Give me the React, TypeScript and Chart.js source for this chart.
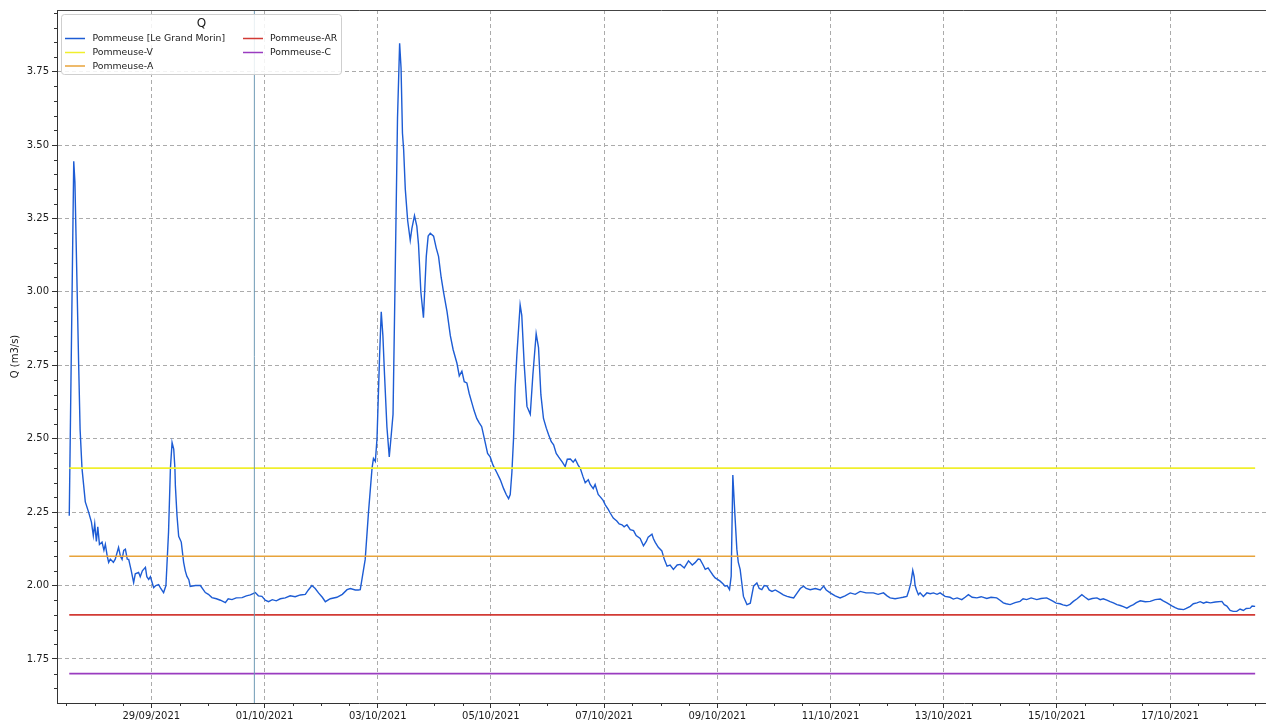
import React, { useEffect, useRef } from 'react';
import { Chart, registerables } from 'chart.js';

Chart.register(...registerables);

// Time axis: hours since 27/09/2021 00:00
const hours = [
  13.2, 15.1, 15.6, 17.2, 17.8, 18.6, 20.0, 21.4, 22.6, 23.4, 24.0, 24.7, 25.3, 26.0, 27.1, 27.9, 28.5, 29.3, 29.9, 30.6,
  31.9, 32.7, 34.1, 34.9, 35.6, 36.3, 37.0, 37.8, 38.4, 39.5, 40.5, 41.2, 42.6, 43.3, 44.2, 45.5, 46.1, 46.9, 47.6, 49.0,
  49.9, 51.1, 52.0, 53.2, 54.2, 55.3, 56.1, 56.8, 57.5, 58.0, 58.2, 58.9, 59.6, 60.7, 61.7, 62.4, 63.1, 63.9, 64.5, 66.7,
  68.8, 70.9, 72.2, 73.7, 75.6, 77.3, 79.4, 80.6, 82.2, 84.0, 86.5, 88.3, 90.0, 92.1, 93.4, 94.9, 96.3, 97.7, 99.3, 101.0,
  102.7, 104.8, 106.9, 109.0, 111.2, 113.3, 114.6, 116.1, 117.5, 118.9, 120.5, 121.8, 123.9, 126.7, 129.0, 131.0, 132.4, 134.5, 135.8, 136.6,
  137.3, 137.9, 138.7, 140.1, 141.6, 142.2, 143.0, 143.7, 144.8, 145.5, 146.2, 146.9, 147.9, 148.9, 149.6, 150.5, 151.4, 152.4, 153.3, 153.9,
  154.5, 155.0, 155.7, 156.7, 157.8, 158.5, 159.6, 160.6, 161.3, 162.3, 163.4, 164.6, 165.4, 166.3, 167.7, 168.8, 169.8, 170.9, 171.9, 173.4,
  174.8, 176.0, 177.6, 178.6, 179.7, 180.7, 181.8, 182.8, 183.9, 184.9, 186.0, 187.0, 188.1, 189.6, 190.6, 191.7, 192.9, 194.5, 196.0, 197.4,
  198.5, 199.5, 200.2, 200.9, 201.6, 202.3, 203.0, 204.4, 205.1, 206.1, 207.3, 208.7, 209.8, 211.2, 212.2, 213.2, 214.3, 215.5, 216.4, 217.6,
  218.6, 219.7, 220.7, 222.3, 223.5, 224.4, 225.7, 226.9, 227.8, 229.0, 229.9, 231.1, 232.0, 233.3, 234.1, 235.4, 236.2, 237.5, 238.4, 239.6,
  240.5, 241.7, 242.6, 243.9, 245.4, 246.4, 247.6, 248.5, 249.7, 251.1, 252.5, 253.6, 255.3, 256.7, 257.9, 258.7, 260.3, 260.9, 261.7, 263.0,
  264.5, 265.5, 266.7, 268.0, 269.4, 271.0, 272.3, 274.0, 275.8, 277.4, 278.6, 279.9, 280.7, 282.0, 282.9, 284.1, 285.0, 286.2, 287.1, 288.3,
  289.2, 290.5, 291.3, 292.2, 293.2, 293.9, 294.6, 295.5, 296.3, 296.9, 297.7, 299.1, 300.6, 302.0, 303.4, 304.8, 305.8, 306.9, 307.9, 309.1,
  310.0, 311.2, 312.6, 314.7, 316.0, 317.6, 319.0, 320.4, 321.9, 323.2, 324.6, 325.7, 327.4, 329.6, 331.7, 333.1, 334.2, 335.9, 338.0, 340.1,
  342.2, 344.4, 346.5, 348.6, 351.1, 354.2, 356.2, 358.5, 360.0, 361.3, 363.4, 365.5, 366.8, 368.4, 369.3, 370.1, 370.9, 371.5, 371.9, 372.5,
  373.3, 374.0, 375.4, 376.9, 378.3, 379.7, 381.2, 382.5, 384.6, 386.7, 388.1, 389.7, 391.7, 393.1, 394.5, 396.1, 398.1, 399.9, 402.3, 404.1,
  406.5, 407.9, 409.3, 410.5, 412.2, 414.3, 416.4, 417.7, 419.2, 421.1, 423.5, 425.3, 427.7, 429.1, 430.5, 431.7, 433.4, 434.6, 436.2, 437.6,
  439.0, 440.6, 442.6, 444.0, 445.4, 447.0, 449.0, 450.4, 451.7, 453.2, 454.6, 456.0, 457.5, 458.9, 460.2, 461.7, 463.1, 464.5, 465.7, 467.4,
  469.5, 471.6, 473.7, 475.9, 477.1, 478.7, 480.8, 482.2, 483.6, 485.8, 486.9, 488.6, 489.9, 491.4, 492.8, 494.2, 495.4, 497.1, 499.2, 502.0,
  503.0, 504.1, 505.5, 506.8, 508.3, 509.7, 511.1, 512.3, 514.0, 514.8, 516.1,
];

const flow = [
  2.238, 3.445, 3.373, 2.748, 2.531, 2.399, 2.285, 2.25, 2.216, 2.17, 2.21, 2.15, 2.2, 2.14, 2.148, 2.12, 2.14, 2.10, 2.079, 2.09,
  2.079, 2.09, 2.13, 2.10, 2.089, 2.12, 2.124, 2.09, 2.089, 2.05, 2.01, 2.04, 2.045, 2.03, 2.05, 2.062, 2.03, 2.021, 2.03, 1.993,
  2.00, 2.003, 1.99, 1.976, 2.0, 2.182, 2.40, 2.487, 2.465, 2.40, 2.34, 2.237, 2.168, 2.148, 2.079, 2.05, 2.031, 2.02, 1.997, 2.0,
  2.0, 1.976, 1.97, 1.959, 1.955, 1.95, 1.942, 1.955, 1.952, 1.958, 1.959, 1.965, 1.968, 1.976, 1.965, 1.963, 1.95, 1.945, 1.952, 1.948,
  1.955, 1.958, 1.965, 1.962, 1.968, 1.97, 1.985, 2.0, 1.99, 1.975, 1.96, 1.945, 1.955, 1.96, 1.97, 1.986, 1.99, 1.985, 1.985, 1.986,
  2.02, 2.05, 2.089, 2.25, 2.40, 2.433, 2.423, 2.50, 2.783, 2.932, 2.851, 2.717, 2.541, 2.438, 2.50, 2.583, 3.053, 3.592, 3.847, 3.763,
  3.54, 3.485, 3.35, 3.243, 3.176, 3.216, 3.26, 3.223, 3.162, 3.0, 2.912, 3.121, 3.19, 3.2, 3.19, 3.15, 3.121, 3.05, 3.0, 2.933,
  2.851, 2.803, 2.757, 2.714, 2.73, 2.694, 2.69, 2.654, 2.623, 2.595, 2.569, 2.555, 2.541, 2.487, 2.45, 2.438, 2.41, 2.385, 2.36, 2.33,
  2.31, 2.296, 2.31, 2.385, 2.50, 2.675, 2.783, 2.956, 2.92, 2.757, 2.61, 2.583, 2.717, 2.858, 2.81, 2.65, 2.569, 2.536, 2.515, 2.49,
  2.479, 2.45, 2.438, 2.42, 2.405, 2.43, 2.431, 2.42, 2.43, 2.41, 2.399, 2.37, 2.35, 2.36, 2.344, 2.33, 2.344, 2.31, 2.302, 2.29,
  2.275, 2.26, 2.247, 2.23, 2.22, 2.21, 2.207, 2.20, 2.207, 2.19, 2.187, 2.17, 2.16, 2.135, 2.15, 2.165, 2.175, 2.16, 2.147, 2.13,
  2.118, 2.09, 2.066, 2.07, 2.055, 2.07, 2.072, 2.06, 2.084, 2.07, 2.078, 2.09, 2.089, 2.07, 2.055, 2.06, 2.049, 2.035, 2.026, 2.02,
  2.015, 2.005, 1.998, 2.0, 1.986, 2.032, 2.376, 2.238, 2.124, 2.08, 2.055, 1.963, 1.935, 1.94, 1.998, 2.009, 1.99, 1.986, 2.0, 1.998,
  1.985, 1.98, 1.985, 1.975, 1.968, 1.963, 1.96, 1.958, 1.975, 1.99, 1.998, 1.99, 1.986, 1.99, 1.985, 1.998, 1.985, 1.975, 1.965, 1.958,
  1.965, 1.975, 1.97, 1.98, 1.975, 1.975, 1.97, 1.975, 1.965, 1.958, 1.955, 1.958, 1.96, 1.963, 1.985, 2.009, 2.052, 2.03, 2.0, 1.985,
  1.969, 1.975, 1.963, 1.975, 1.972, 1.975, 1.97, 1.975, 1.963, 1.96, 1.954, 1.958, 1.952, 1.96, 1.969, 1.96, 1.958, 1.962, 1.956, 1.96,
  1.958, 1.95, 1.941, 1.938, 1.935, 1.942, 1.946, 1.955, 1.952, 1.958, 1.952, 1.956, 1.958, 1.952, 1.946, 1.94, 1.938, 1.934, 1.931, 1.936,
  1.946, 1.955, 1.969, 1.96, 1.952, 1.956, 1.958, 1.952, 1.955, 1.95, 1.945, 1.941, 1.935, 1.932, 1.928, 1.923, 1.93, 1.935, 1.942, 1.948,
  1.945, 1.946, 1.952, 1.954, 1.948, 1.941, 1.931, 1.925, 1.92, 1.918, 1.922, 1.929, 1.938, 1.941, 1.945, 1.94, 1.944, 1.941, 1.944, 1.946,
  1.935, 1.93, 1.915, 1.912, 1.912, 1.92, 1.915, 1.922, 1.923, 1.93, 1.929,
];

const seriesName = 'Pommeuse [Le Grand Morin]';
const seriesColor = '#1d5cd4';

const thresholdNames = ['Pommeuse-V', 'Pommeuse-A', 'Pommeuse-AR', 'Pommeuse-C'];
const thresholdValues = [2.4, 2.1, 1.9, 1.7];
const thresholdColors = ['#f0ef2c', '#e8a33a', '#d23a35', '#9a3cc0'];
const thresholdSpan = [13.2, 516.1];

const markerHour = 91.7;
const markerColor = '#6f9ab5';

const xLimits = [8, 520.7];
const yLimits = [1.6, 3.96];

const xTickHours = [48, 96, 144, 192, 240, 288, 336, 384, 432, 480];
const xTickLabels = [
  '29/09/2021', '01/10/2021', '03/10/2021', '05/10/2021', '07/10/2021',
  '09/10/2021', '11/10/2021', '13/10/2021', '15/10/2021', '17/10/2021',
];
const yTickValues = [1.75, 2.0, 2.25, 2.5, 2.75, 3.0, 3.25, 3.5, 3.75];

const yTitle = 'Q (m3/s)';
const legendTitle = 'Q';

const FONT = '"DejaVu Sans", "Liberation Sans", sans-serif';
const TEXT = '#1a1a1a';

const minorTicksPlugin = {
  id: 'minorTicks',
  afterDraw(chart: any) {
    const { ctx, chartArea } = chart;
    const xs = chart.scales.x;
    const ys = chart.scales.y;
    ctx.save();
    ctx.strokeStyle = '#333';
    ctx.lineWidth = 1;
    ctx.beginPath();
    for (let h = 12; h <= xLimits[1]; h += 12) {
      if (h < xLimits[0] || h % 48 === 0) continue;
      const px = Math.round(xs.getPixelForValue(h)) + 0.5;
      ctx.moveTo(px, chartArea.bottom);
      ctx.lineTo(px, chartArea.bottom + 3);
    }
    for (let k = 33; k <= 79; k++) {
      if (k % 5 === 0) continue;
      const v = k * 0.05;
      if (v < yLimits[0] || v > yLimits[1]) continue;
      const py = Math.round(ys.getPixelForValue(v)) + 0.5;
      ctx.moveTo(chartArea.left - 3, py);
      ctx.lineTo(chartArea.left, py);
    }
    ctx.stroke();
    // top spine
    ctx.strokeStyle = '#444';
    ctx.beginPath();
    ctx.moveTo(chartArea.left, chartArea.top + 0.5);
    ctx.lineTo(chartArea.right, chartArea.top + 0.5);
    ctx.stroke();
    ctx.restore();
  },
};

const legendPlugin = {
  id: 'customLegend',
  afterDraw(chart: any) {
    const { ctx } = chart;
    ctx.save();
    const bx = 61.5, by = 14.5, bw = 280, bh = 60, r = 3;
    ctx.beginPath();
    ctx.moveTo(bx + r, by);
    ctx.lineTo(bx + bw - r, by);
    ctx.quadraticCurveTo(bx + bw, by, bx + bw, by + r);
    ctx.lineTo(bx + bw, by + bh - r);
    ctx.quadraticCurveTo(bx + bw, by + bh, bx + bw - r, by + bh);
    ctx.lineTo(bx + r, by + bh);
    ctx.quadraticCurveTo(bx, by + bh, bx, by + bh - r);
    ctx.lineTo(bx, by + r);
    ctx.quadraticCurveTo(bx, by, bx + r, by);
    ctx.closePath();
    ctx.fillStyle = 'rgba(255,255,255,0.85)';
    ctx.fill();
    ctx.strokeStyle = '#cfcfcf';
    ctx.lineWidth = 1;
    ctx.stroke();

    ctx.fillStyle = TEXT;
    ctx.font = `12px ${FONT}`;
    ctx.textAlign = 'center';
    ctx.textBaseline = 'middle';
    ctx.fillText(legendTitle, bx + bw / 2, by + 9.5);

    const items = [
      { label: seriesName, color: seriesColor, col: 0, row: 0 },
      { label: thresholdNames[0], color: thresholdColors[0], col: 0, row: 1 },
      { label: thresholdNames[1], color: thresholdColors[1], col: 0, row: 2 },
      { label: thresholdNames[2], color: thresholdColors[2], col: 1, row: 0 },
      { label: thresholdNames[3], color: thresholdColors[3], col: 1, row: 1 },
    ];
    const rowY = [38.5, 52.5, 66];
    const colLine = [65, 243];
    const colText = [92.5, 270];
    ctx.font = `9.3px ${FONT}`;
    ctx.textAlign = 'left';
    for (const it of items) {
      const y = rowY[it.row];
      ctx.strokeStyle = it.color;
      ctx.lineWidth = 1.5;
      ctx.beginPath();
      ctx.moveTo(colLine[it.col], y);
      ctx.lineTo(colLine[it.col] + 20, y);
      ctx.stroke();
      ctx.fillStyle = TEXT;
      ctx.fillText(it.label, colText[it.col], y + 0.5);
    }
    ctx.restore();
  },
};

export default function App() {
  const canvasRef = useRef<HTMLCanvasElement | null>(null);

  useEffect(() => {
    const canvas = canvasRef.current;
    if (!canvas) return;

    const mainData = hours.map((h, i) => ({ x: h, y: flow[i] }));
    const thresholdDatasets = thresholdValues.map((v, i) => ({
      label: thresholdNames[i],
      data: [
        { x: thresholdSpan[0], y: v },
        { x: thresholdSpan[1], y: v },
      ],
      borderColor: thresholdColors[i],
      borderWidth: 1.6,
      pointRadius: 0,
      fill: false,
      order: 2 + i,
    }));

    const chart = new Chart(canvas, {
      type: 'line',
      data: {
        datasets: [
          {
            label: 'marker',
            data: [
              { x: markerHour, y: yLimits[0] },
              { x: markerHour, y: yLimits[1] },
            ],
            borderColor: markerColor,
            borderWidth: 1,
            pointRadius: 0,
            fill: false,
            order: 1,
          },
          ...thresholdDatasets,
          {
            label: seriesName,
            data: mainData,
            borderColor: seriesColor,
            borderWidth: 1.4,
            pointRadius: 0,
            tension: 0,
            fill: false,
            order: 10,
          },
        ],
      },
      options: {
        animation: false,
        responsive: false,
        events: [],
        layout: { padding: { top: 10, right: 0, bottom: 0, left: 0 } },
        plugins: {
          legend: { display: false },
          tooltip: { enabled: false },
        },
        scales: {
          x: {
            type: 'linear',
            min: xLimits[0],
            max: xLimits[1],
            afterBuildTicks: (scale: any) => {
              scale.ticks = xTickHours.map((v) => ({ value: v }));
            },
            afterFit: (scale: any) => {
              scale.height = 19;
            },
            ticks: {
              autoSkip: false,
              maxRotation: 0,
              minRotation: 0,
              padding: 2,
              color: TEXT,
              font: { family: FONT, size: 10 },
              callback: (_v: any, i: number) => xTickLabels[i],
            },
            grid: {
              color: '#ababab',
              lineWidth: 1,
              tickLength: 5,
              tickColor: '#333',
              tickWidth: 1,
            },
            border: { display: true, color: '#333', width: 1, dash: [4, 3] },
          },
          y: {
            type: 'linear',
            min: yLimits[0],
            max: yLimits[1],
            afterBuildTicks: (scale: any) => {
              scale.ticks = yTickValues.map((v) => ({ value: v }));
            },
            afterFit: (scale: any) => {
              scale.width = 57;
            },
            ticks: {
              padding: 3,
              color: TEXT,
              font: { family: FONT, size: 10 },
              callback: (v: any) => Number(v).toFixed(2),
            },
            grid: {
              color: '#ababab',
              lineWidth: 1,
              tickLength: 5,
              tickColor: '#333',
              tickWidth: 1,
            },
            border: { display: true, color: '#333', width: 1, dash: [4, 3] },
            title: {
              display: true,
              text: yTitle,
              color: TEXT,
              font: { family: FONT, size: 10 },
              padding: { top: 9, bottom: 0 },
            },
          },
        },
      },
      plugins: [minorTicksPlugin, legendPlugin],
    } as any);

    return () => {
      chart.destroy();
    };
  }, []);

  return (
    <div style={{ position: 'fixed', left: 0, top: 0, width: 1266, height: 722, background: '#fff' }}>
      <canvas ref={canvasRef} width={1266} height={722} style={{ display: 'block' }} />
    </div>
  );
}
